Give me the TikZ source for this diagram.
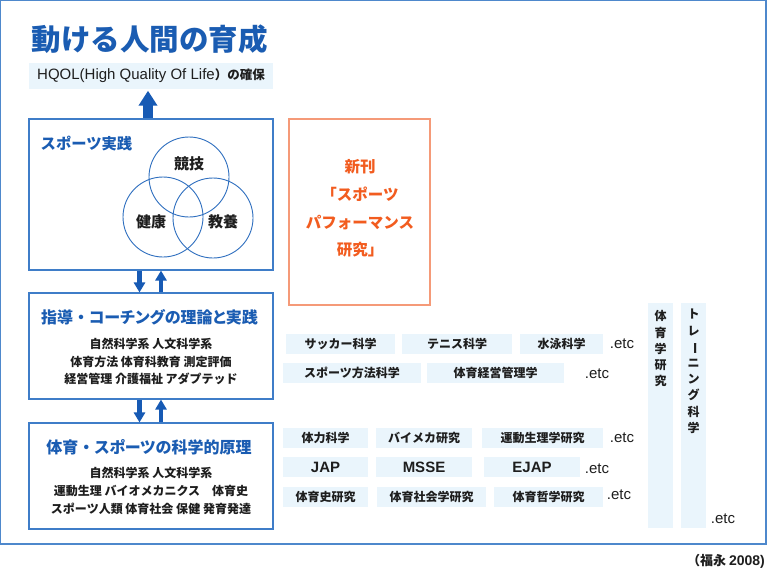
\documentclass[tikz,border=0pt]{standalone}
\usepackage{fontspec}
\usepackage{graphicx}
\usetikzlibrary{arrows.meta}
\newfontfamily\jp{Noto Sans CJK JP}
\newfontfamily\jpp{Noto Sans CJK JP}[RawFeature=+palt]
\newfontfamily\lat{Liberation Sans}
\definecolor{titleblue}{HTML}{1A5CB2}
\definecolor{frameblue}{HTML}{3F7DC8}
\definecolor{outerblue}{HTML}{4E88CC}
\definecolor{arrowblue}{HTML}{175AB4}
\definecolor{lightfill}{HTML}{EAF5FC}
\definecolor{orangetxt}{HTML}{F25C1F}
\definecolor{orangeline}{HTML}{F59A78}
\definecolor{circleblue}{HTML}{2F6FBF}
\definecolor{bodytxt}{HTML}{1E1E1E}
\newcommand{\vbar}{\raisebox{0pt}[0pt][0pt]{\rotatebox[origin=c]{-90}{ー}}}
\newcommand{\fwdot}{{\jp ・}}
\begin{document}
\begin{tikzpicture}[x=1pt,y=-1pt,
  bluebox/.style={draw=frameblue, line width=1.1pt, fill=white, inner sep=0pt},
  sbox/.style={fill=lightfill, inner sep=0pt, minimum height=20pt, text=bodytxt,
    font=\jp\bfseries\fontsize{12}{14}\selectfont},
  latbox/.style={sbox, font=\lat\bfseries\fontsize{15}{17}\selectfont},
  etc/.style={inner sep=0pt, text=bodytxt, font=\lat\fontsize{15}{17}\selectfont},
  vbox/.style={fill=lightfill, inner sep=0pt, minimum width=25pt, minimum height=225pt},
  vtext/.style={inner sep=0pt, anchor=north, align=center, text=bodytxt,
    font=\jp\bfseries\fontsize{12}{16.2}\selectfont},
  bigarrow/.style={arrowblue, line width=10pt, -{Triangle[width=18pt,length=15pt]}},
  smallarrow/.style={arrowblue, line width=4.5pt, -{Triangle[width=11pt,length=10pt]}},
  circ/.style={draw=circleblue, line width=0.9pt, circle, minimum size=80pt, inner sep=0pt},
  circlabel/.style={inner sep=0pt, text=bodytxt, font=\jp\bfseries\fontsize{15}{17}\selectfont},
  bodytext/.style={inner sep=0pt, align=center, text=bodytxt},
  boxtitle/.style={inner sep=0pt, text=titleblue, font=\jpp\bfseries\fontsize{16}{18}\selectfont}
]
\useasboundingbox (0,0) rectangle (768,568);
\fill[white] (0,0) rectangle (768,568);
% outer frame
\draw[outerblue, line width=1.2pt] (0.8,0.8) rectangle (766,544);

% title
\node[inner sep=0pt, text=titleblue, font=\jp\bfseries\fontsize{29.5}{32}\selectfont] (title) at (149.5,39) {動ける人間の育成};

% HQOL
\node[fill=lightfill, inner sep=0pt, minimum width=244pt, minimum height=26pt, text=bodytxt] (hqol) at (151,76)
  {{\lat\fontsize{15}{17}\selectfont HQOL(High Quality Of Life}{\jp\bfseries\fontsize{12.5}{14}\selectfont ）の確保}};

% box 1: sports practice
\node[bluebox, minimum width=244pt, minimum height=151pt] (b1) at (151,194.5) {};
\node[anchor=west, inner sep=0pt, text=titleblue, font=\jp\bfseries\fontsize{15.3}{17}\selectfont] (b1t) at (40.5,144) {スポーツ実践};
\node[circ] (c1) at (189,177) {};
\node[circ] (c2) at (163,217) {};
\node[circ] (c3) at (213,218) {};
\node[circlabel] (l1) at (189,164) {競技};
\node[circlabel] (l2) at (151,222) {健康};
\node[circlabel] (l3) at (223,222) {教養};

% orange box
\node[draw=orangeline, line width=1.1pt, minimum width=141pt, minimum height=186pt, inner sep=0pt] (ob) at (359.5,212) {};
\node[inner sep=0pt, align=center, text=orangetxt, font=\jp\bfseries\fontsize{15.5}{27.7}\selectfont] (obt) at (360,208.5)
  {新刊\\「スポーツ\\パフォーマンス\\研究」};

% box 2
\node[bluebox, minimum width=244pt, minimum height=106pt] (b2) at (151,346) {};
\node[boxtitle] (b2t) at (149.5,317) {指導\fwdot コーチングの理論と実践};
\node[bodytext, font=\jp\bfseries\fontsize{12}{17.5}\selectfont] (b2x) at (151,361.5)
  {自然科学系 人文科学系\\体育方法 体育科教育 測定評価\\経営管理 介護福祉 アダプテッド};

% box 3
\node[bluebox, minimum width=244pt, minimum height=106pt] (b3) at (151,476) {};
\node[boxtitle] (b3t) at (149,447) {体育\fwdot スポーツの科学的原理};
\node[bodytext, font=\jp\bfseries\fontsize{12}{18}\selectfont] (b3x) at (151,491)
  {自然科学系 人文科学系\\運動生理 バイオメカニクス　体育史\\スポーツ人類 体育社会 保健 発育発達};

% arrows
\draw[bigarrow, shorten >=1.5pt] ([xshift=-3pt]b1.north) -- ([xshift=-3pt]hqol.south);
\draw[smallarrow] ([xshift=-11.5pt]b1.south) -- ([xshift=-11.5pt]b2.north);
\draw[smallarrow] ([xshift=10pt]b2.north) -- ([xshift=10pt]b1.south);
\draw[smallarrow] ([xshift=-11.5pt]b2.south) -- ([xshift=-11.5pt]b3.north);
\draw[smallarrow] ([xshift=10pt]b3.north) -- ([xshift=10pt]b2.south);

% row 1
\node[sbox, minimum width=109pt] (r1a) at (340.5,344) {サッカー科学};
\node[sbox, minimum width=110pt] (r1b) at (457,344) {テニス科学};
\node[sbox, minimum width=83pt] (r1c) at (561.5,344) {水泳科学};
\node[etc] (e1) at (622,344) {.etc};
% row 2
\node[sbox, minimum width=138pt] (r2a) at (352,373) {スポーツ方法科学};
\node[sbox, minimum width=137pt] (r2b) at (495.5,373) {体育経営管理学};
\node[etc] (e2) at (597,374) {.etc};
% row 3
\node[sbox, minimum width=85pt] (r3a) at (325.5,438) {体力科学};
\node[sbox, minimum width=96pt] (r3b) at (424,438) {バイメカ研究};
\node[sbox, minimum width=121pt] (r3c) at (542.5,438) {運動生理学研究};
\node[etc] (e3) at (622,438) {.etc};
% row 4
\node[latbox, minimum width=85pt] (r4a) at (325.5,467) {JAP};
\node[latbox, minimum width=96pt] (r4b) at (424,467) {MSSE};
\node[latbox, minimum width=96pt] (r4c) at (532,467) {EJAP};
\node[etc] (e4) at (597,469) {.etc};
% row 5
\node[sbox, minimum width=85pt] (r5a) at (325.5,497) {体育史研究};
\node[sbox, minimum width=109pt] (r5b) at (431.5,497) {体育社会学研究};
\node[sbox, minimum width=109pt] (r5c) at (548.5,497) {体育哲学研究};
\node[etc] (e5) at (619,495) {.etc};

% vertical boxes
\node[vbox] (v1) at (660.5,415.5) {};
\node[vbox] (v2) at (693.5,415.5) {};
\node[vtext] (v1t) at (660.5,310.5) {体\\育\\学\\研\\究};
\node[vtext] (v2t) at (693.5,309) {ト\\レ\\\vbar\\ニ\\ン\\グ\\科\\学};
\node[etc] (e6) at (723,519) {.etc};

% caption
\node[anchor=east, inner sep=0pt, text=bodytxt] (cap) at (765,561)
  {{\jp\bfseries\fontsize{13}{14}\selectfont （福永 }{\lat\bfseries\fontsize{14}{15}\selectfont 2008)}};
\end{tikzpicture}
\end{document}
